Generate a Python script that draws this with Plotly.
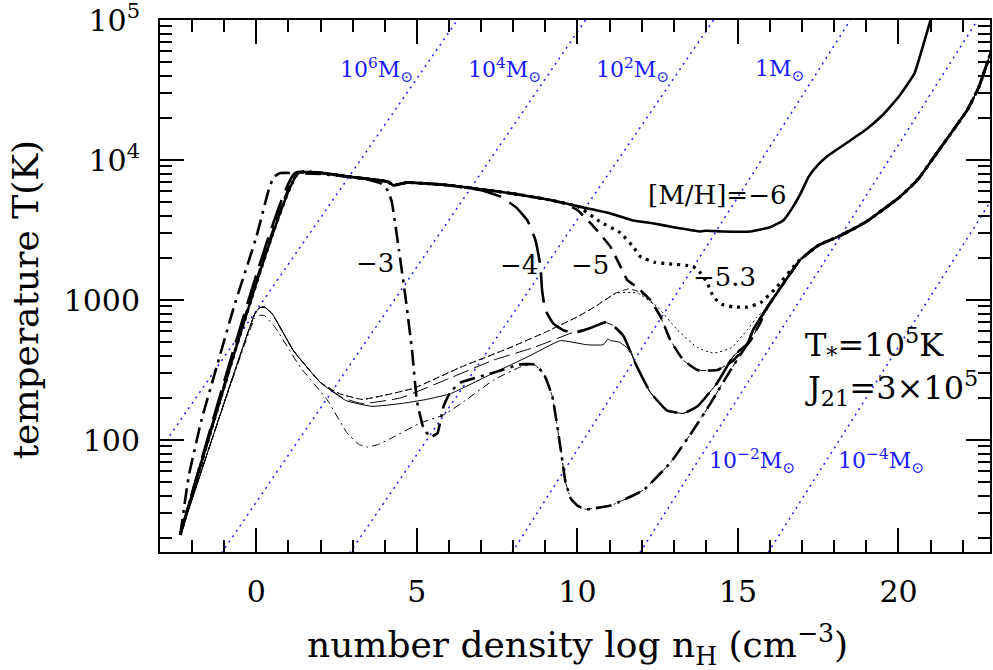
import plotly.graph_objects as go

# ---------------------------------------------------------------------------
# Temperature tracks: log n_H (cm^-3) and T (K)
# ---------------------------------------------------------------------------

# common high-density track that all metal-enriched runs settle onto
conv_n = [15.3, 15.48, 15.92, 16.42, 16.95, 17.5, 18.19, 19.0, 20.06, 20.6, 21.1, 21.6, 22.15, 22.5, 22.87, 23.1]
conv_t = [490, 617, 891, 1318, 1950, 2455, 2884, 3631, 5495, 7244, 10470, 15136, 22909, 33113, 57544, 70795]

# thick lines: strong FUV field
m6_n = [-2.37, 1.31, 2.93, 3.77, 4.1, 4.27, 4.5, 4.7, 6.0, 8.0, 9.16, 10.2, 11.0, 11.7, 12.3, 13.0, 13.83,
        14.0, 14.5, 15.4, 16.0, 16.42, 16.7, 16.95, 17.2, 17.47, 17.8, 18.5, 19.0, 19.5, 20.0, 20.5, 21.0, 21.1]
m6_t = [21, 8072, 7586, 7194, 6998, 6607, 6761, 6918, 6607, 5754, 5176, 4571, 4169, 3715, 3548, 3311, 3090,
        3126, 3090, 3090, 3311, 3715, 4571, 5754, 7586, 9120, 10715, 13804, 16596, 20893, 28184, 41687, 100000, 112202]

m53_n = [-2.37, 1.31, 2.93, 3.77, 4.1, 4.27, 4.5, 4.7, 6.0, 8.0, 9.16, 10.0, 10.7, 11.34, 11.74, 11.96, 12.4,
         12.8, 13.6, 13.85, 14.05, 14.24, 14.5, 14.86, 15.3, 15.7, 16.2, 16.85]
m53_t = [21, 8072, 7586, 7194, 6998, 6607, 6761, 6918, 6607, 5754, 5176, 4677, 3631, 3020, 2399, 2042, 1862,
         1820, 1738, 1549, 1318, 1047, 933, 891, 891, 955, 1230, 1862]

m5_n = [-2.37, 1.28, 2.93, 3.77, 4.1, 4.27, 4.5, 4.7, 6.0, 8.0, 9.16, 9.6, 10.0, 10.51, 11.03, 11.34, 11.56,
        11.87, 12.27, 12.59, 12.9, 13.3, 13.74, 14.36, 14.86, 15.39, 15.7]
m5_t = [21, 8072, 7586, 7194, 6998, 6607, 6761, 6918, 6607, 5754, 5176, 4898, 4395, 3342, 2399, 1738, 1380,
        1230, 1000, 759, 513, 372, 316, 316, 372, 513, 692]

m4_n = [-2.37, 1.2, 2.93, 3.77, 4.1, 4.27, 4.5, 4.7, 6.0, 7.0, 7.6, 8.1, 8.44, 8.69, 8.85, 8.9, 9.0, 9.26,
        9.6, 9.99, 10.4, 10.87, 11.1, 11.44, 11.8, 12.27, 12.8, 13.3, 13.74, 14.36, 14.86]
m4_t = [21, 8072, 7586, 7194, 6998, 6607, 6761, 6918, 6607, 6095, 5495, 4571, 3715, 2692, 1738, 1175, 851, 676,
        603, 589, 631, 692, 661, 550, 355, 219, 162, 155, 174, 257, 398]

m3_n = [-2.37, -2.1, -1.7, -1.2, -0.7, 0.0, 0.4, 0.55, 0.75, 2.0, 2.93, 3.5, 3.9, 4.1, 4.22, 4.44, 4.64, 4.85,
        5.0, 5.2, 5.42, 5.64, 5.83, 6.04, 6.36, 7.38, 8.22, 8.63, 8.94, 9.22, 9.47, 9.63, 9.8, 10.0, 10.25,
        11.03, 12.06, 12.9, 13.6, 14.14, 14.77]
m3_t = [21, 56, 141, 355, 891, 2818, 6310, 7586, 8072, 7943, 7586, 7244, 6761, 6026, 5012, 2291, 1072, 437,
        191, 123, 105, 112, 174, 219, 257, 302, 347, 347, 302, 204, 89, 50, 38, 34, 32,
        34, 44, 69, 117, 182, 316]

# thin lines
t6_n = [-2.37, -0.05, 0.1, 0.25, 0.5, 1.15, 2.0, 2.8, 3.6, 4.5, 5.3, 6.04, 7.4, 8.5, 9.47, 10.3, 10.8, 10.95,
        11.05, 11.3, 11.65, 11.8, 12.27, 12.8, 13.3, 13.74, 14.36, 14.86]
t6_t = [21, 794, 881, 891, 794, 437, 257, 191, 174, 182, 195, 214, 302, 398, 513, 479, 479, 525,
        513, 501, 437, 355, 219, 162, 155, 174, 257, 398]

t53_n = [-2.37, -0.05, 0.1, 0.25, 0.5, 1.15, 2.0, 2.6, 3.3, 4.0, 4.9, 6.36, 7.9, 9.0, 10.0, 10.6, 11.2, 11.87,
         12.5, 13.1, 13.74, 14.24, 14.8, 15.3, 15.6, 15.92]
t53_t = [21, 794, 881, 891, 794, 437, 257, 214, 195, 209, 234, 331, 457, 589, 759, 912, 1122, 1122,
         891, 617, 457, 417, 457, 617, 759, 891]

t5_n = [-2.37, -0.05, 0.1, 0.25, 0.5, 1.15, 2.0, 2.6, 3.3, 4.0, 4.9, 6.36, 7.9, 9.0, 10.0, 10.6, 11.2, 11.6,
        11.9, 12.27, 12.59, 12.9, 13.3, 13.74, 14.36, 14.86, 15.39, 15.7]
t5_t = [21, 794, 881, 891, 794, 437, 257, 214, 195, 209, 234, 331, 457, 589, 759, 912, 1122, 1202,
        1148, 1000, 759, 513, 372, 316, 316, 372, 513, 692]

t4_n = [-2.37, -0.05, 0.1, 0.25, 0.5, 1.15, 2.0, 2.7, 3.3, 4.5, 6.0, 7.38, 8.63, 10.0, 10.4, 10.87, 11.1,
        11.44, 11.8, 12.27, 12.8, 13.3, 13.74, 14.36, 14.86]
t4_t = [21, 794, 881, 891, 794, 437, 257, 200, 182, 200, 275, 372, 457, 603, 631, 692, 661,
        550, 355, 219, 162, 155, 174, 257, 398]

t3_n = [-2.37, -0.05, 0.1, 0.25, 0.6, 1.37, 2.2, 2.83, 3.2, 3.46, 3.8, 4.27, 5.1, 5.83, 6.5, 7.4, 8.2, 8.63,
        8.94, 9.22, 9.47, 9.63, 9.8, 10.0, 10.25, 11.03, 12.06, 12.9, 13.6, 14.14, 14.77]
t3_t = [21, 741, 776, 776, 631, 331, 195, 112, 93, 89, 93, 105, 132, 151, 191, 269, 331, 347,
        302, 204, 89, 50, 38, 34, 32, 34, 44, 69, 117, 182, 316]

# Jeans-mass lines: log n_H where each crosses 100 K and 10^5 K
jeans_n_100 = [-2.79, 1.32, 5.31, 10.19, 14.17, 18.16]
jeans_n_1e5 = [6.26, 10.25, 14.24, 18.50, 22.46, 26.45]
jeans_text = ["10<sup>6</sup>M<sub>⊙</sub>", "10<sup>4</sup>M<sub>⊙</sub>", "10<sup>2</sup>M<sub>⊙</sub>",
              "1M<sub>⊙</sub>", "10<sup>−2</sup>M<sub>⊙</sub>", "10<sup>−4</sup>M<sub>⊙</sub>"]

y_tickvals = [100, 1000, 1e4, 1e5]
y_ticktext = ["100", "1000", "10<sup>4</sup>", "10<sup>5</sup>"]


def with_tail(n, t, start):
    """Append the common high-density track from log n = start onwards."""
    nn = list(n) + [v for v in conv_n if v >= start]
    tt = list(t) + [conv_t[i] for i, v in enumerate(conv_n) if v >= start]
    return nn, tt


fig = go.Figure()

BLUE = "#1a1aff"
FONT = "DejaVu Serif"


def add_line(n, t, width, dash, color="black", smooth=0.35):
    fig.add_trace(go.Scatter(
        x=n, y=t, mode="lines", hoverinfo="skip", showlegend=False,
        line=dict(color=color, width=width, dash=dash, shape="spline", smoothing=smooth),
    ))


# Jeans-mass reference lines
for a, b in zip(jeans_n_100, jeans_n_1e5):
    add_line([a - (b - a) / 3.0, b], [10, 1e5], 1.5, "2px,4.5px", BLUE)

# thin tracks
add_line(*with_tail(t53_n, t53_t, 16.42), 1.0, "2px,3px")
add_line(*with_tail(t5_n, t5_t, 15.92), 1.0, "6px,4px")
add_line(*with_tail(t4_n, t4_t, 15.3), 1.0, "16px,6px")
add_line(*with_tail(t6_n, t6_t, 15.3), 1.0, "solid")
add_line(*with_tail(t3_n, t3_t, 15.3), 1.0, "8px,4px,2px,4px")

# thick tracks
add_line(*with_tail(m3_n, m3_t, 15.3), 2.6, "16px,6px,3px,6px")
add_line(*with_tail(m4_n, m4_t, 15.3), 2.6, "30px,10px")
add_line(*with_tail(m5_n, m5_t, 15.92), 2.6, "14px,8px")
add_line(*with_tail(m53_n, m53_t, 17.5), 3.2, "3px,5px")
add_line(m6_n, m6_t, 2.6, "solid")

ann = []

# Jeans-mass labels
jeans_pos = [(3.74, 4.64), (7.72, 4.64), (11.71, 4.64), (16.3, 4.64), (15.45, 1.85), (19.44, 1.85)]
for txt, (xn, yl) in zip(jeans_text, jeans_pos):
    ann.append(dict(x=xn, y=yl, text=txt, showarrow=False, xanchor="center", yanchor="middle",
                    font=dict(family=FONT, size=22, color=BLUE)))

# metallicity labels
for txt, xn, yl in [("−3", 3.71, 3.264), ("−4", 8.19, 3.25), ("−5", 10.4, 3.25),
                    ("−5.3", 14.58, 3.164), ("[M/H]=−6", 14.36, 3.75)]:
    ann.append(dict(x=xn, y=yl, text=txt, showarrow=False, xanchor="center", yanchor="middle",
                    font=dict(family=FONT, size=26, color="black")))

# radiation-field parameters
ann.append(dict(x=17.04, y=2.68, text="T<sub>*</sub>=10<sup>5</sup>K", showarrow=False,
                xanchor="left", yanchor="middle", font=dict(family=FONT, size=32, color="black")))
ann.append(dict(x=17.04, y=2.37, text="J<sub>21</sub>=3×10<sup>5</sup>", showarrow=False,
                xanchor="left", yanchor="middle", font=dict(family=FONT, size=32, color="black")))

# axis titles
ann.append(dict(xref="paper", yref="paper", x=0.5036, y=-0.175,
                text="number density log n<sub>H</sub> (cm<sup>−3</sup>)", showarrow=False,
                xanchor="center", yanchor="middle", font=dict(family=FONT, size=36, color="black")))
ann.append(dict(xref="paper", yref="paper", x=-0.162, y=0.474, text="temperature T(K)", textangle=-90,
                showarrow=False, xanchor="center", yanchor="middle",
                font=dict(family=FONT, size=36, color="black")))

fig.update_layout(
    width=993, height=670,
    margin=dict(l=160, r=3, t=20, b=118, autoexpand=False),
    paper_bgcolor="white", plot_bgcolor="white",
    font=dict(family=FONT, color="black"),
    annotations=ann,
)

fig.update_xaxes(
    range=[-3, 22.85], tickmode="linear", tick0=0, dtick=5,
    ticks="inside", ticklen=24, tickwidth=1.5, tickcolor="black",
    showline=True, linewidth=2, linecolor="black", mirror="ticks",
    showgrid=False, zeroline=False, tickfont=dict(family=FONT, size=30, color="black"),
    ticklabelstandoff=12, ticklabeloverflow="allow",
    minor=dict(tick0=0, dtick=1, ticks="inside", ticklen=12, tickwidth=1.5, tickcolor="black", showgrid=False),
)

minor_y = [m * 10 ** d for d in range(1, 5) for m in range(2, 10)]
fig.update_yaxes(
    type="log", range=[1.2, 5.0005], tickmode="array", tickvals=y_tickvals, ticktext=y_ticktext,
    ticks="inside", ticklen=24, tickwidth=1.5, tickcolor="black",
    showline=True, linewidth=2, linecolor="black", mirror="ticks",
    showgrid=False, zeroline=False, tickfont=dict(family=FONT, size=30, color="black"),
    ticklabelstandoff=12, ticklabeloverflow="allow",
    minor=dict(tickmode="array", tickvals=minor_y, ticks="inside", ticklen=12, tickwidth=1.5,
               tickcolor="black", showgrid=False),
)

fig.write_html("out.html")
